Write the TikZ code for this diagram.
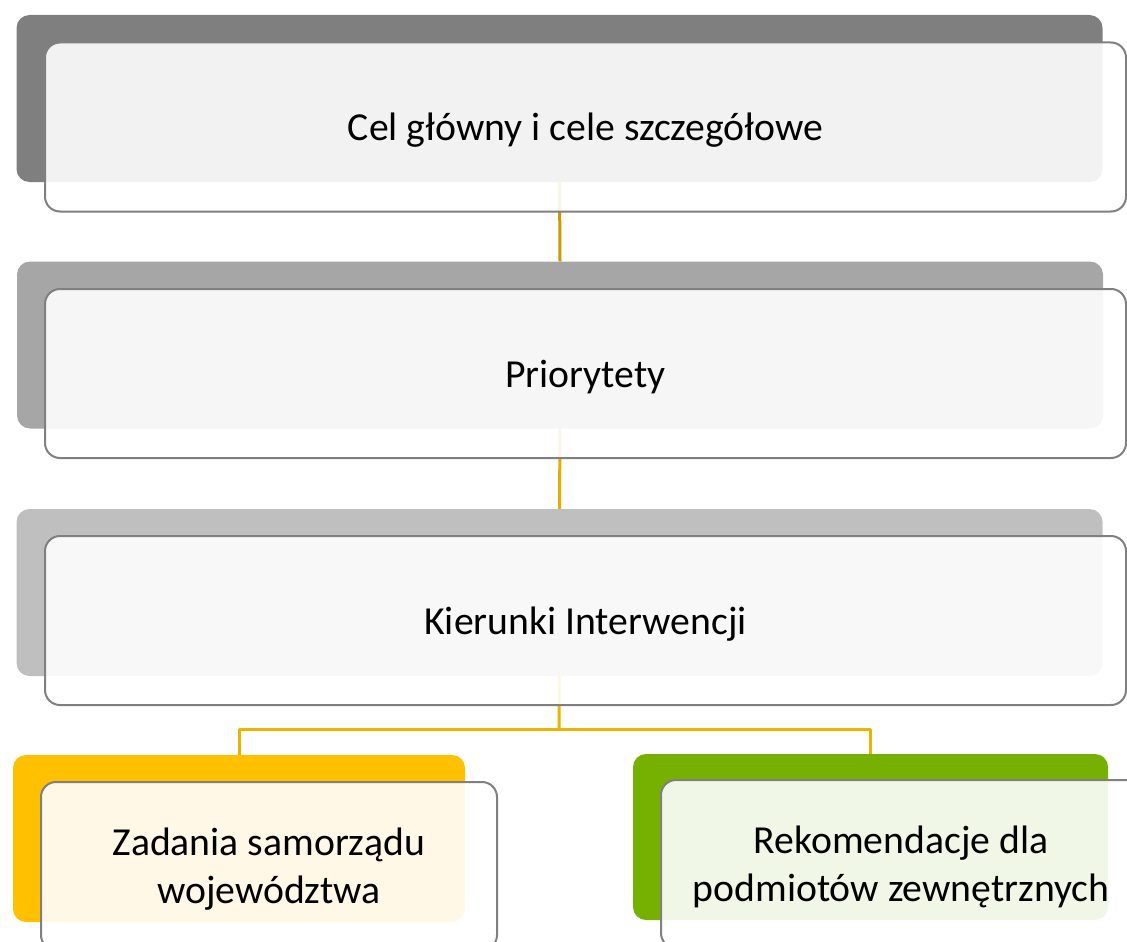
\documentclass[tikz,border=0pt]{standalone}
\usepackage{fontspec}
\setmainfont{Carlito}
\definecolor{darkback}{RGB}{127,127,127}
\definecolor{midback}{RGB}{166,166,166}
\definecolor{lightback}{RGB}{191,191,191}
\definecolor{yellowback}{RGB}{255,192,0}
\definecolor{greenback}{RGB}{118,176,0}
\definecolor{frameline}{RGB}{128,128,128}
\definecolor{linkA}{RGB}{201,154,0}
\definecolor{linkB}{RGB}{230,172,0}
\definecolor{linkC}{RGB}{235,180,0}
\begin{document}
\begin{tikzpicture}[line cap=round, line join=round, x=1pt, y=-1pt, font=\fontsize{39.7}{48}\selectfont]
	\tikzset{back/.style={rounded corners=13pt, minimum width=1086pt, minimum height=167pt, inner sep=0pt},
		front/.style={draw=frameline, line width=2pt, fill=white, fill opacity=0.9, text opacity=1, rounded corners=15pt, minimum width=1081pt, minimum height=169pt, inner sep=0pt, text depth=0pt, align=center},
		link/.style={line width=3pt, line cap=butt}}
	\clip (0,0) rectangle (1127,942);
	\useasboundingbox (0,0) rectangle (1127,942);
	% back boxes
	\node[back, fill=darkback] (b1) at (559.5,98.5) {};
	\node[back, fill=midback] (b2) at (560,345) {};
	\node[back, fill=lightback] (b3) at (559.5,592.5) {};
	\node[back, fill=yellowback, minimum width=452pt] (yb) at (239,838.5) {};
	\node[back, fill=greenback, minimum width=475pt, minimum height=166pt] (gb) at (870.5,837) {};
	% connectors
	\coordinate (fork) at (559,729.5);
	\draw[link, linkA] (b1.south) -- (b2.north);
	\draw[link, linkB] (b2.south) -- (b3.north);
	\draw[link, linkC] (b3.south) -- (fork);
	\draw[link, linkC] (fork) -| (yb.north);
	\draw[link, linkC] (fork) -| (gb.north);
	% front boxes
	\node[front] (f1) at (585.5,127) {Cel główny i cele szczegółowe};
	\node[front] (f2) at (585.5,373.5) {Priorytety};
	\node[front] (f3) at (585.5,620.5) {Kierunki Interwencji};
	\node[front, minimum width=456pt, minimum height=168pt] (fy) at (269,866) {Zadania samorządu\\województwa};
	\node[front, minimum width=480pt, minimum height=168pt] (fg) at (901,864) {Rekomendacje dla\\podmiotów zewnętrznych};
\end{tikzpicture}
\end{document}
